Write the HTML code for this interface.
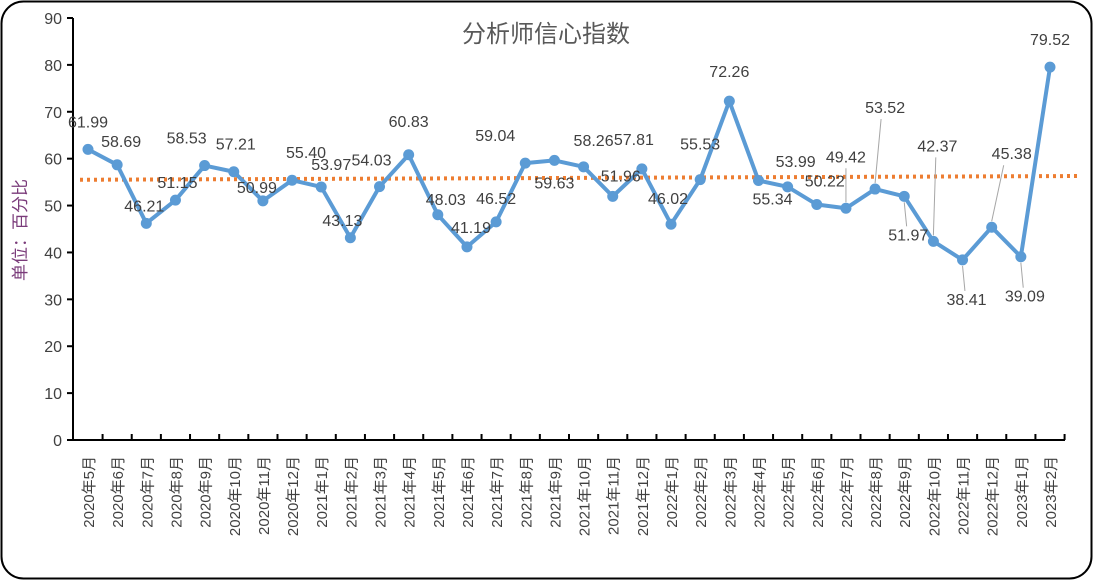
<!DOCTYPE html>
<html><head><meta charset="utf-8">
<style>
body{margin:0;background:#fff;}
svg text{font-family:"Liberation Sans","Noto Sans CJK SC",sans-serif;}
</style></head>
<body>
<svg id="chart" width="1093" height="582" xmlns="http://www.w3.org/2000/svg">
<rect x="1.5" y="1.5" width="1090" height="577" rx="22" fill="#fff" stroke="#000" stroke-width="2"/>
<text x="546" y="42" font-size="24" fill="#595959" text-anchor="middle">分析师信心指数</text>
<text transform="translate(26,230) rotate(-90)" font-size="17" fill="#7a3b7a" text-anchor="middle">单位：百分比</text>
<g id="yaxis"></g><g id="xaxis"></g><g id="trend"></g><g id="series"></g><g id="labels"></g>
</svg>
<script>
const categories=["2020年5月","2020年6月","2020年7月","2020年8月","2020年9月","2020年10月","2020年11月","2020年12月","2021年1月","2021年2月","2021年3月","2021年4月","2021年5月","2021年6月","2021年7月","2021年8月","2021年9月","2021年10月","2021年11月","2021年12月","2022年1月","2022年2月","2022年3月","2022年4月","2022年5月","2022年6月","2022年7月","2022年8月","2022年9月","2022年10月","2022年11月","2022年12月","2023年1月","2023年2月"];
const values=[61.99,58.69,46.21,51.15,58.53,57.21,50.99,55.40,53.97,43.13,54.03,60.83,48.03,41.19,46.52,59.04,59.63,58.26,51.96,57.81,46.02,55.53,72.26,55.34,53.99,50.22,49.42,53.52,51.97,42.37,38.41,45.38,39.09,79.52];
const yTicks=[0,10,20,30,40,50,60,70,80,90];
const trendStartEnd=[55.5,56.3];
// label placement: [dx,dy] relative to point (style, not data)
const labelOff=[[0,-22],[4,-18],[-2,-12],[2,-12],[-18,-22],[2,-22],[-6,-8],[14,-22],[10,-17],[-8,-12],[-8,-21],[0,-28],[8,-10],[4,-14],[0,-18],[-30,-22],[0,28],[10,-21],[8,-15],[-8,-24],[-3,-20],[0,-30],[0,-24],[14,24],[8,-20],[8,-18],[0,-46],[10,-76],[4,44],[4,-90],[4,45],[20,-68],[4,45],[0,-22]];
const X0=88,DX=(1050-88)/33,Y0=440,YS=422/90;
const xs=i=>X0+i*DX, ys=v=>Y0-v*YS;
const NS="http://www.w3.org/2000/svg";
function mk(tag,attrs,parent){const e=document.createElementNS(NS,tag);for(const k in attrs)e.setAttribute(k,attrs[k]);parent.appendChild(e);return e;}
const ya=document.getElementById('yaxis');
mk('line',{x1:73,y1:18,x2:73,y2:440,stroke:'#000','stroke-width':2},ya);
yTicks.forEach(t=>{
 const tk=mk('line',{x1:67,y1:ys(t),x2:73,y2:ys(t),stroke:'#000','stroke-width':2},ya);
 const tx=mk('text',{x:62,y:ys(t)+6,'font-size':16,fill:'#404040','text-anchor':'end'},ya);
 tx.textContent=t;
 
 
});
const xa=document.getElementById('xaxis');
mk('line',{x1:73,y1:440,x2:1065,y2:440,stroke:'#000','stroke-width':2},xa);
categories.forEach((c,i)=>{
 mk('line',{x1:xs(i)+DX/2,y1:434,x2:xs(i)+DX/2,y2:440,stroke:'#000','stroke-width':2},xa);
 const tx=mk('text',{transform:`translate(${xs(i)+6},456) rotate(-90)`,'font-size':15,fill:'#404040','text-anchor':'end'},xa);
 tx.textContent=c;
 
 
});
const tr=mk('line',{x1:80,y1:ys(trendStartEnd[0]),x2:1078,y2:ys(trendStartEnd[1]),stroke:'#ED7D31','stroke-width':4,'stroke-dasharray':'3 4'},document.getElementById('trend'));


const sg=document.getElementById('series');
const pl=mk('polyline',{points:values.map((v,i)=>xs(i)+','+ys(v)).join(' '),fill:'none',stroke:'#5B9BD5','stroke-width':4,'stroke-linejoin':'round'},sg);


const lg=document.getElementById('labels');
values.forEach((v,i)=>{
 const c=mk('circle',{cx:xs(i),cy:ys(v),r:5.5,fill:'#5B9BD5'},sg);
 
 
 const o=labelOff[i];
 const lx=xs(i)+o[0], ly=ys(v)+o[1];
 if(Math.abs(o[1])>35){mk('line',{x1:xs(i),y1:ys(v)+(o[1]>0?6:-6),x2:xs(i)+o[0]*0.6,y2:ly+(o[1]>0?-14:6),stroke:'#a6a6a6','stroke-width':1},lg);}
 const t=mk('text',{x:lx,y:ly,'font-size':16,fill:'#404040','text-anchor':'middle'},lg);
 t.textContent=v.toFixed(2);
 
 
});
</script>
</body></html>
